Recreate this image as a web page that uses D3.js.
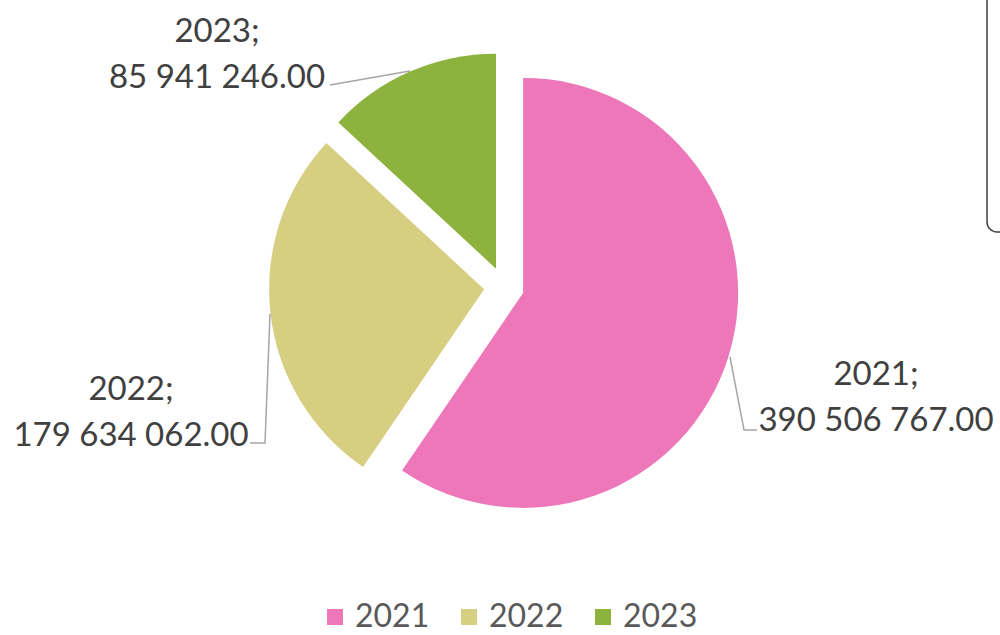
<!DOCTYPE html>
<html>
<head>
<meta charset="utf-8">
<script src="https://cdn.jsdelivr.net/npm/d3@7"></script>
<style>
  body { margin: 0; background: #fff; }
  svg { display: block; font-family: Lato, "Open Sans", sans-serif; }
  .label { fill: #404040; font-size: 33px; }
  .legend text { fill: #595959; font-size: 32px; }
</style>
</head>
<body>
<svg></svg>
<script>
var width = 1000;
var height = 635;

var years = ["2021", "2022", "2023"];
var values = [390506767.00, 179634062.00, 85941246.00];
var colors = ["#ee77b9", "#d6ce81", "#8db33e"];

var svg = d3.select("svg")
    .attr("width", width)
    .attr("height", height)

var cx = 504, cy = 287, radius = 215, explode = 20;

var pie = d3.pie().sort(null).value(function(d) { return d; })
var arc = d3.arc().innerRadius(0).outerRadius(radius)

var slices = pie(values)

function offset(d, dist) {
    var a = (d.startAngle + d.endAngle) / 2;
    return [Math.sin(a) * dist, -Math.cos(a) * dist];
}

var g = svg.append("g").attr("transform", "translate(" + cx + "," + cy + ")")

g.selectAll("path")
    .data(slices)
    .enter()
    .append("path")
    .attr("transform", function(d) {
        var o = offset(d, explode);
        return "translate(" + o[0] + "," + o[1] + ")";
    })
    .attr("d", arc)
    .style("fill", function(d, i) { return colors[i]; })

// label spots (text centre x, first baseline) and leader lines
var fmt = function(v) {
    return d3.format(",.2f")(v).replace(/,/g, " ");
}
var labelPos = [[876, 385], [131, 400], [217, 42]];
var leaders = [
    [[730, 357], [744, 430], [757, 430]],
    [[270, 314], [265, 443], [250, 443]],
    [[410, 71], [330, 85]]
];

svg.append("g")
    .selectAll("path")
    .data(leaders)
    .enter()
    .append("path")
    .attr("d", d3.line())
    .style("fill", "none")
    .style("stroke", "#a6a6a6")
    .style("stroke-width", 1.5)

var labels = svg.append("g")
    .selectAll("text")
    .data(slices)
    .enter()
    .append("text")
    .attr("class", "label")
    .attr("text-anchor", "middle")

labels.append("tspan")
    .attr("x", function(d, i) { return labelPos[i][0]; })
    .attr("y", function(d, i) { return labelPos[i][1]; })
    .text(function(d, i) { return years[i] + ";"; })
labels.append("tspan")
    .attr("x", function(d, i) { return labelPos[i][0]; })
    .attr("y", function(d, i) { return labelPos[i][1] + 46; })
    .text(function(d) { return fmt(d.data); })

// legend
var legendX = d3.scalePoint().domain(years).range([327, 595])

var legend = svg.selectAll("g.legend")
    .data(years)
    .enter()
    .append("g")
    .attr("class", "legend")
    .attr("transform", function(d) { return "translate(" + legendX(d) + ",0)"; })

legend.append("rect")
    .attr("y", 609)
    .attr("width", 16)
    .attr("height", 16)
    .style("fill", function(d, i) { return colors[i]; })

legend.append("text")
    .attr("x", 28)
    .attr("y", 627)
    .text(function(d) { return d; })

// edge of the neighbouring box
svg.append("rect")
    .attr("x", 987)
    .attr("y", -20)
    .attr("width", 60)
    .attr("height", 252)
    .attr("rx", 10)
    .style("fill", "none")
    .style("stroke", "#404040")
    .style("stroke-width", 1.5)
</script>
</body>
</html>
